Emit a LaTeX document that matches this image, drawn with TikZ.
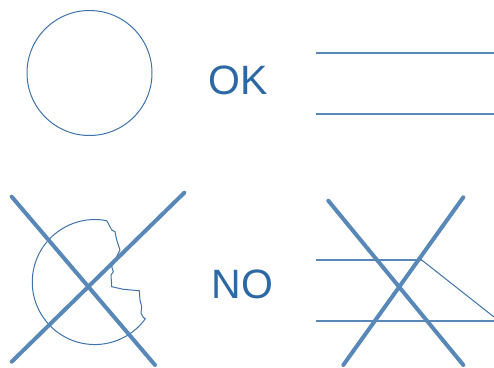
\documentclass[tikz,border=0pt]{standalone}
\usepackage{fontspec}
\setmainfont{Liberation Sans}
\usetikzlibrary{calc}
\definecolor{LineBlue}{RGB}{62,114,170}
\definecolor{CrossBlue}{RGB}{88,136,184}
\definecolor{TextBlue}{RGB}{44,104,164}
\tikzset{
  thinline/.style={LineBlue,line width=1pt},
  rail/.style={CrossBlue,line width=1.8pt},
  crossout/.style={CrossBlue,line width=4pt,line cap=round},
  label/.style={TextBlue,font=\fontsize{41}{41}\selectfont,inner sep=0pt}
}
\begin{document}
\begin{tikzpicture}[x=1pt,y=-1pt]
      \useasboundingbox (0,0) rectangle (494,367);
      % good cases
      \draw[thinline] (89.5,73) circle (62.5);
      \node[label] (ok) at (238.5,80) {OK};
      \draw[rail] (316,53)--(494,53);
      \draw[rail] (316,114)--(494,114);
      % bad cases
      \draw[thinline,line join=round] (106.7,220.7) arc[start angle=-79,end angle=-324,radius=62.5]
        -- (143.3,317.3) -- (141,313.3) -- (141.7,306.7) -- (140,300) -- (139.3,290.7)
        -- (123.3,289.3) -- (111.7,286.7) -- (111,275) -- (113.3,271.7) -- (111.7,266.7)
        -- (120,250) -- (116.7,240) -- (115,231.7) -- (111.7,230) -- (108.3,223.3) -- cycle;
      \draw[crossout] (11.7,196.7)--(155,365);
      \draw[crossout] (184.3,192.7)--(11.7,361.7);
      \node[label] (no) at (242.5,284) {NO};
      \draw[rail] (316,260)--(421.7,260);
      \draw[thinline] (421.7,260)--(494,317);
      \draw[rail] (316,321)--(494,321);
      \draw[crossout] (328.3,200.7)--(463.3,365);
      \draw[crossout] (463.3,197.3)--(343.3,365);
\end{tikzpicture}
\end{document}
